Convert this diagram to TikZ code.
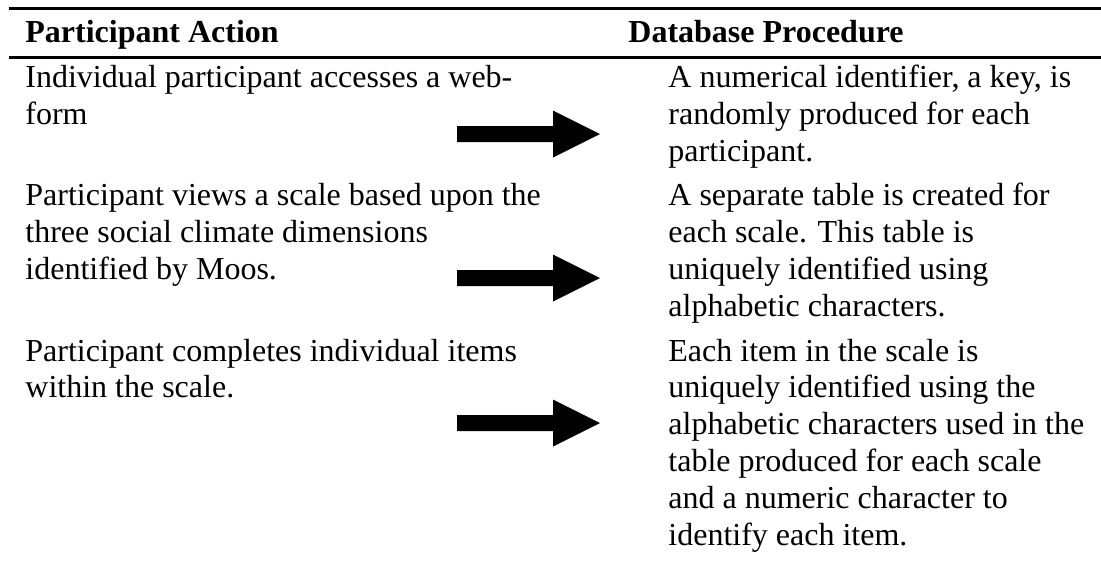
\documentclass[tikz,border=0pt]{standalone}
\usepackage{fontspec}
\setmainfont{Liberation Serif}
\begin{document}
\begin{tikzpicture}[x=0.5pt,y=-0.5pt,
  cell/.style={anchor=north west,inner sep=0pt,align=left,font=\fontsize{16}{18.4}\selectfont},
  head/.style={anchor=base west,inner sep=0pt,font=\fontsize{16}{18.4}\selectfont\bfseries},
  rulebar/.style={line width=1.5pt},
  blockarrow/.style={fill=black}]
\useasboundingbox (0,0) rectangle (1101,564);
% rules
\coordinate (r1a) at (9,8);
\coordinate (r1b) at (1101,8);
\coordinate (r2a) at (9,57);
\coordinate (r2b) at (1101,57);
\draw[rulebar] (r1a) -- (r1b);
\draw[rulebar] (r2a) -- (r2b);
% header
\node[head] (h1) at (25,42) {Participant Action};
\node[head] (h2) at (628,42) {Database Procedure};
% cells (top = baseline - 25.76)
\node[cell] (l1) at (25,61.24) {\strut Individual participant accesses a web-\\form};
\node[cell] (r1) at (668,61.24) {\strut A numerical identifier, a key, is\\randomly produced for each\\participant.};
\node[cell] (l2) at (25,179.64) {\strut Participant views a scale based upon the\\three social climate dimensions\\identified by Moos.};
\node[cell] (r2) at (668,179.64) {\strut A separate table is created for\\each scale. This table is\\uniquely identified using\\alphabetic characters.};
\node[cell] (l3) at (25,334.84) {\strut Participant completes individual items\\within the scale.};
\node[cell] (r3) at (668,334.84) {\strut Each item in the scale is\\uniquely identified using the\\alphabetic characters used in the\\table produced for each scale\\and a numeric character to\\identify each item.};
% block arrows
\coordinate (a1) at (457,134);
\coordinate (a2) at (457,278);
\coordinate (a3) at (457,423);
\foreach \a in {a1,a2,a3}{
  \fill[blockarrow,shift={(\a)}] (0,-8) -- (96,-8) -- (96,-23.5) -- (143,0) -- (96,23.5) -- (96,8) -- (0,8) -- cycle;
}
\end{tikzpicture}
\end{document}
